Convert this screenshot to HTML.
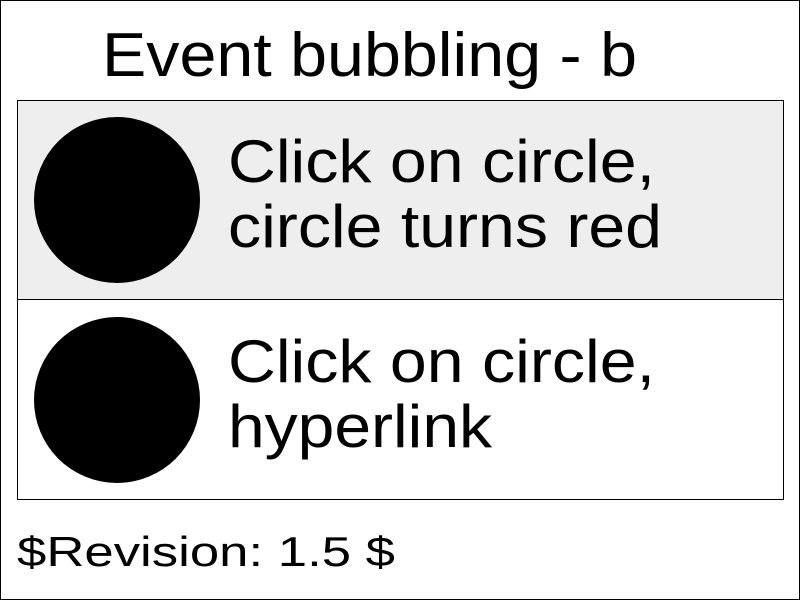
<!DOCTYPE html>
<html><head><meta charset="utf-8"><style>
html,body{margin:0;padding:0;background:#fff}
svg{display:block}
text{font-family:"Liberation Sans",Arial,sans-serif;fill:#000}
</style></head><body>
<svg width="800" height="600" viewBox="0 0 800 600" xmlns="http://www.w3.org/2000/svg">
<rect x="0.5" y="0.5" width="799" height="599" fill="#fff" stroke="#000" stroke-width="1"/>
<text x="102" y="76" font-size="62" textLength="535" lengthAdjust="spacingAndGlyphs">Event bubbling - b</text>
<rect x="17.5" y="100.5" width="766" height="199" fill="#eeeeee" stroke="#000" stroke-width="1"/>
<rect x="17.5" y="299.5" width="766" height="200" fill="#fff" stroke="#000" stroke-width="1"/>
<circle cx="117" cy="200" r="83" fill="#000"/>
<circle cx="117" cy="400" r="83" fill="#000"/>
<text x="228" y="182" font-size="60" textLength="427" lengthAdjust="spacingAndGlyphs">Click on circle,</text>
<text x="228" y="247" font-size="60" textLength="434" lengthAdjust="spacingAndGlyphs">circle turns red</text>
<text x="228" y="382" font-size="60" textLength="427" lengthAdjust="spacingAndGlyphs">Click on circle,</text>
<text x="228" y="447" font-size="60" textLength="264" lengthAdjust="spacingAndGlyphs">hyperlink</text>
<text x="17" y="566" font-size="42" textLength="378" lengthAdjust="spacingAndGlyphs">$Revision: 1.5 $</text>
</svg>
</body></html>
